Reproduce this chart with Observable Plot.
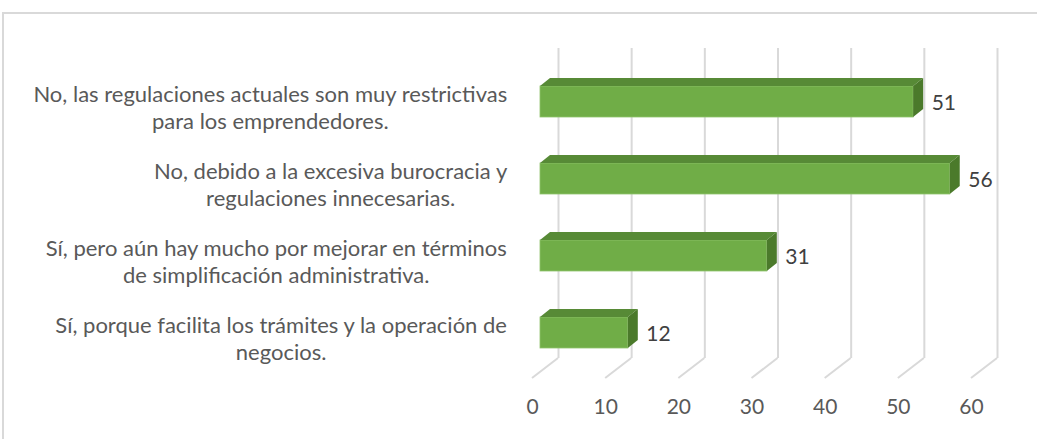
<!DOCTYPE html>
<html><head><meta charset="utf-8">
<script src="https://cdn.jsdelivr.net/npm/d3@7"></script>
<script src="https://cdn.jsdelivr.net/npm/@observablehq/plot@0.6"></script>
<style>
html,body{margin:0;padding:0;background:#fff;overflow:hidden;width:1037px;height:439px}
#frame{position:absolute;left:2px;top:12px;width:1200px;height:600px;border:2px solid #d9d9d9;box-sizing:border-box}
#chart{position:absolute;left:0;top:0}
</style></head><body><div id="frame"></div><div id="chart"></div>
<script>
const categories = ["A", "B", "C", "D"];
const labels = [
  "No, las regulaciones actuales son muy restrictivas\npara los emprendedores.",
  "No, debido a la excesiva burocracia y\nregulaciones innecesarias.",
  "Sí, pero aún hay mucho por mejorar en términos\nde simplificación administrativa.",
  "Sí, porque facilita los trámites y la operación de\nnegocios."
];
const values = [51, 56, 31, 12];
const tickValues = [0, 10, 20, 30, 40, 50, 60];

const data = categories.map((c, i) => ({cat: c, label: labels[i], value: values[i]}));

const FONT = "Lato";
const LABEL_SIZE = 22;
const DX = 10, DY = -8, H = 31;
const colFront = "#70AD47", colTop = "#578A36", colSide = "#4B7A2B", grid = "#d9d9d9";

// measure label widths to center lines within right-aligned block
const ctx = document.createElement("canvas").getContext("2d");
ctx.font = `${LABEL_SIZE}px ${FONT}`;
const blockRight = 507, marginLeft = 540;

function floorMark(index, scales) {
  const {x, y} = scales;
  const bw = y.bandwidth ? y.bandwidth() : 77;
  const yBack = y(categories[categories.length - 1]) + bw - 13;
  const g = d3.create("svg:g");
  tickValues.forEach(t => {
    g.append("line")
      .attr("x1", x(t) + 18).attr("y1", yBack)
      .attr("x2", x(t) - 8).attr("y2", yBack + 20)
      .attr("stroke", grid).attr("stroke-width", 2);
  });
  return g.node();
}

function depthMark(index, scales) {
  const {x, y} = scales;
  const bw = y.bandwidth ? y.bandwidth() : 77;
  const g = d3.create("svg:g");
  data.forEach(d => {
    const x0 = x(0), x1 = x(d.value);
    const yc = y(d.cat) + bw / 2;
    const yt = yc - H / 2, yb = yc + H / 2;
    g.append("path")
      .attr("d", `M${x0},${yt}L${x1},${yt}L${x1 + DX},${yt + DY}L${x0 + DX},${yt + DY}Z`)
      .attr("fill", colTop);
    g.append("path")
      .attr("d", `M${x1},${yt}L${x1 + DX},${yt + DY}L${x1 + DX},${yb + DY}L${x1},${yb}Z`)
      .attr("fill", colSide);
  });
  return g.node();
}

const labelMarks = data.map(d => {
  const w = Math.max(...d.label.split("\n").map(s => ctx.measureText(s).width));
  const center = blockRight - w / 2;
  return Plot.text([d], {
    y: "cat", text: "label", frameAnchor: "left", textAnchor: "middle",
    dx: center - marginLeft, dy: 5, fontSize: LABEL_SIZE, lineHeight: 1.2, fill: "#595959"
  });
});

const chart = Plot.plot({
  width: 1037, height: 439,
  marginLeft, marginRight: 58, marginTop: 63, marginBottom: 68,
  style: {fontFamily: FONT, background: "transparent", color: "#595959", overflow: "visible"},
  x: {domain: [0, 60], axis: null},
  y: {domain: categories, padding: 0, axis: null},
  marks: [
    Plot.ruleX(tickValues, {stroke: grid, strokeWidth: 2, dx: 18, insetTop: -15, insetBottom: 13}),
    floorMark,
    Plot.barX(data, {y: "cat", x: "value", fill: colFront, insetTop: (77 - H) / 2, insetBottom: (77 - H) / 2, stroke: "#8fc26b", strokeWidth: 0.8}),
    depthMark,
    Plot.text(data, {y: "cat", x: "value", text: d => String(d.value), textAnchor: "start", dx: 18, dy: 1, fontSize: 21, fill: "#404040"}),
    Plot.axisX(tickValues, {tickSize: 0, tickPadding: 28, dx: -8, fontSize: 21, fill: "#595959", label: null}),
    ...labelMarks
  ]
});
document.getElementById("chart").appendChild(chart);
</script></body></html>
